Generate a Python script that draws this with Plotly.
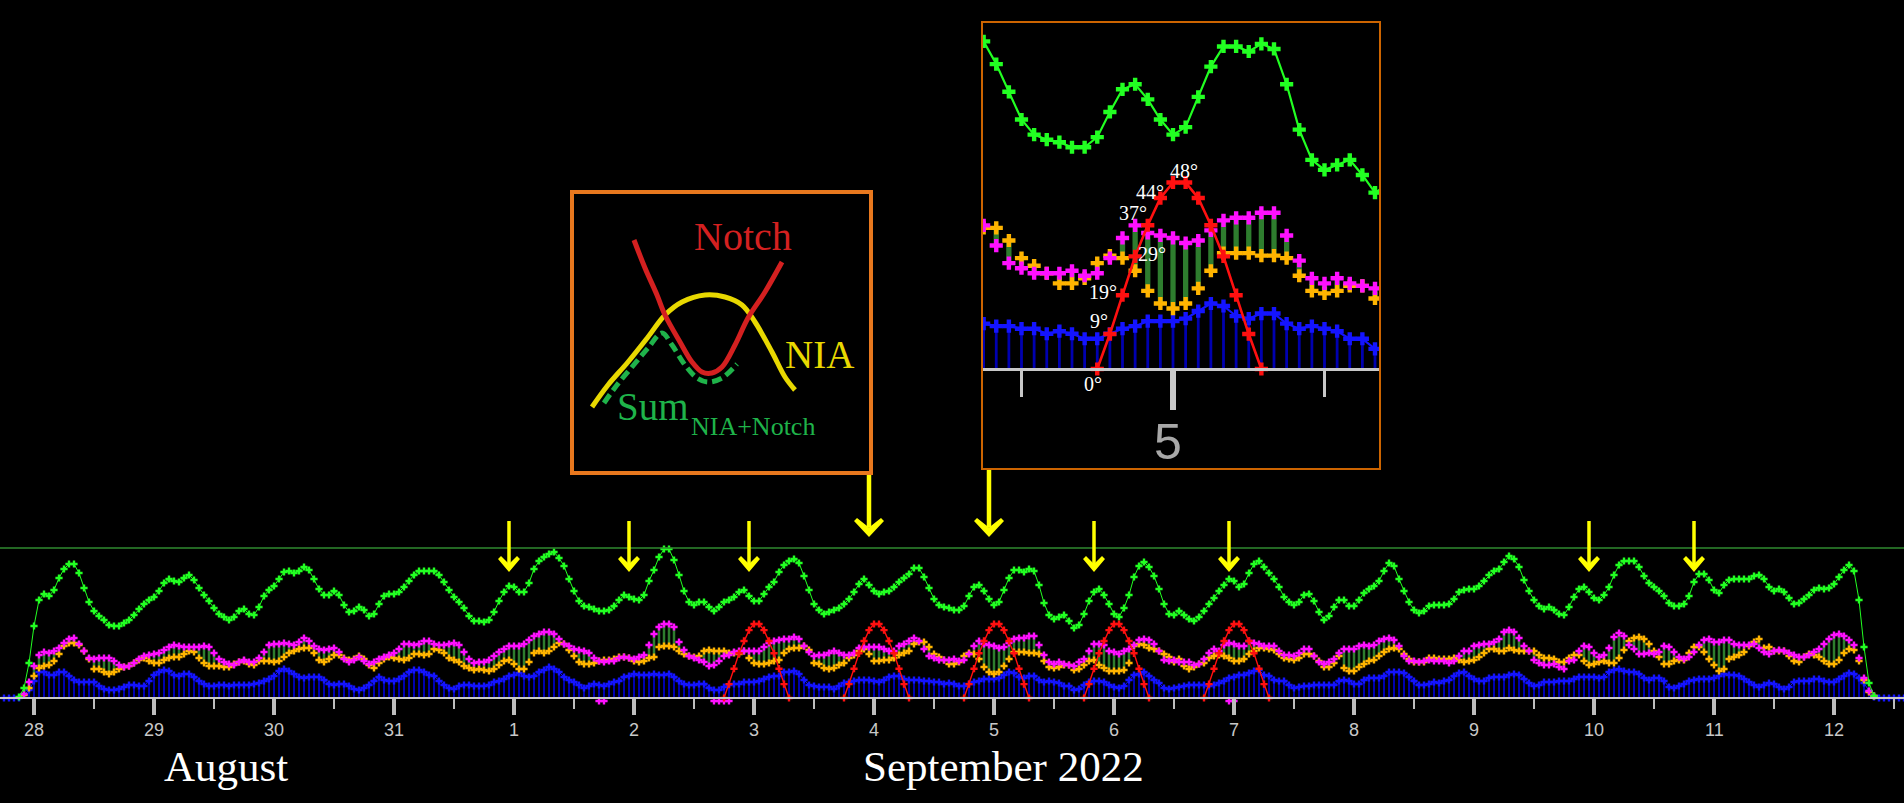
import numpy as np
import plotly.graph_objects as go

W, H = 1904, 803

# ---------------- data (hourly, hours since 28 Aug 2022 00:00) ----------------
HOURS = list(range(-6, 375))

GREEN = [None, None, None, 1, 10, 35,
 72, 98, 104, 102, 108, 120, 129, 134, 134, 125,
 110, 96, 87, 82, 78, 73, 72, 72, 75, 78,
 83, 89, 94, 98, 101, 107, 115, 119, 117, 116,
 120, 123, 118, 110, 103, 97, 90, 84, 81, 78,
 81, 87, 89, 84, 83, 91, 102, 108, 112, 119,
 126, 127, 125, 127, 131, 128, 119, 109, 103, 103,
 107, 103, 93, 86, 87, 91, 88, 82, 84, 94,
 102, 104, 104, 106, 111, 117, 123, 127, 127, 127,
 127, 123, 116, 108, 101, 96, 90, 82, 77, 77,
 76, 78, 86, 97, 106, 112, 111, 106, 106, 115,
 129, 137, 141, 144, 146, 140, 132, 119, 107, 97,
 92, 91, 89, 87, 87, 88, 92, 98, 103, 101,
 99, 98, 103, 117, 128, 141, 149, 149, 138, 123,
 107, 96, 93, 96, 96, 91, 87, 91, 96, 98,
 101, 106, 108, 102, 97, 97, 104, 111, 116, 126,
 133, 137, 139, 135, 122, 108, 94, 88, 84, 86,
 88, 90, 94, 99, 106, 114, 119, 113, 107, 104,
 106, 107, 111, 116, 120, 124, 130, 130, 121, 110,
 99, 93, 91, 90, 88, 88, 92, 102, 111, 113,
 107, 99, 93, 96, 108, 120, 128, 128, 126, 129,
 127, 113, 95, 83, 79, 81, 83, 77, 70, 73,
 84, 97, 106, 109, 103, 94, 84, 81, 90, 103,
 121, 132, 136, 131, 122, 109, 94, 84, 83, 87,
 83, 79, 77, 81, 87, 94, 100, 107, 113, 119,
 117, 111, 114, 125, 134, 137, 131, 125, 119, 111,
 101, 96, 93, 96, 103, 104, 97, 86, 78, 82,
 91, 98, 98, 92, 92, 98, 105, 109, 112, 117,
 127, 135, 132, 119, 107, 96, 88, 85, 87, 92,
 93, 93, 93, 94, 99, 106, 108, 109, 109, 112,
 117, 123, 127, 129, 136, 142, 139, 131, 118, 107,
 98, 92, 89, 91, 88, 84, 83, 91, 101, 109,
 111, 106, 100, 98, 103, 111, 123, 133, 137, 137,
 137, 131, 122, 115, 111, 107, 102, 95, 92, 92,
 94, 102, 116, 124, 124, 118, 108, 105, 113, 118,
 119, 119, 119, 119, 122, 123, 119, 111, 107, 109,
 106, 100, 94, 95, 99, 103, 108, 110, 109, 110,
 114, 121, 128, 133, 127, 98, 51, 15, 2, None,
 None, None, None, None, None]

MAGENTA = [None, None, None, None, 4, 16,
 32, 43, 46, 45, 47, 50, 55, 59, 60, 54,
 47, 40, 39, 40, 40, 40, 37, 33, 31, 32,
 35, 39, 42, 43, 44, 45, 48, 51, 53, 52,
 51, 51, 51, 51, 52, 51, 45, 39, 36, 34,
 33, 36, 38, 36, 36, 40, 46, 53, 54, 54,
 55, 54, 53, 56, 60, 57, 52, 49, 48, 49,
 50, 46, 39, 36, 38, 41, 37, 34, 36, 39,
 41, 43, 45, 49, 54, 54, 53, 54, 57, 57,
 54, 53, 53, 54, 55, 53, 46, 39, 35, 36,
 36, 38, 42, 46, 49, 52, 52, 52, 54, 58,
 62, 64, 66, 66, 64, 59, 54, 52, 49, 48,
 47, 45, 40, 37, 36, 37, 37, 40, 41, 40,
 39, 41, 43, 53, 64, 71, 74, 74, 71, 56,
 48, 42, 40, 38, 36, 32, 33, 37, 42, 43,
 46, 47, 47, 47, 47, 47, 51, 55, 57, 58,
 59, 59, 61, 59, 52, 46, 42, 43, 43, 45,
 47, 45, 43, 43, 45, 50, 51, 51, 51, 51,
 49, 47, 47, 52, 54, 57, 60, 57, 49, 42,
 40, 38, 38, 38, 39, 37, 38, 44, 52, 57,
 54, 53, 52, 50, 51, 55, 59, 60, 60, 62,
 62, 53, 43, 36, 34, 36, 34, 33, 32, 36,
 39, 47, 54, 54, 53, 47, 46, 44, 47, 49,
 53, 58, 59, 58, 54, 47, 38, 37, 38, 36,
 36, 36, 33, 34, 39, 45, 49, 47, 53, 55,
 54, 52, 52, 57, 55, 54, 52, 52, 52, 47,
 43, 43, 42, 45, 49, 49, 42, 36, 34, 36,
 39, 45, 49, 49, 49, 52, 53, 52, 53, 57,
 59, 60, 58, 52, 42, 37, 37, 36, 37, 38,
 37, 37, 37, 35, 37, 42, 47, 47, 52, 53,
 54, 54, 56, 59, 66, 68, 66, 60, 52, 47,
 38, 35, 33, 33, 34, 31, 29, 37, 38, 47,
 52, 51, 45, 41, 43, 50, 61, 65, 62, 53,
 49, 44, 44, 45, 44, 46, 52, 51, 46, 41,
 39, 41, 46, 53, 58, 59, 56, 56, 58, 58,
 54, 53, 53, 53, 54, 50, 46, 44, 47, 48,
 47, 45, 43, 41, 41, 43, 46, 49, 54, 59,
 63, 64, 62, 58, 53, 40, 20, 7, 2, None,
 None, None, None, None, None]

ORANGE = [None, None, None, None, 3, 10,
 22, 30, 32, 33, 37, 44, 52, 55, 55, 53,
 47, 39, 29, 29, 26, 24, 26, 29, 31, 32,
 35, 38, 40, 37, 35, 35, 38, 40, 41, 41,
 44, 47, 46, 40, 35, 32, 32, 32, 31, 31,
 34, 36, 37, 34, 33, 37, 37, 37, 36, 37,
 41, 45, 47, 49, 50, 50, 45, 38, 36, 39,
 43, 43, 40, 38, 39, 42, 39, 33, 30, 35,
 39, 41, 40, 39, 38, 40, 44, 44, 43, 44,
 49, 48, 45, 40, 38, 36, 32, 30, 28, 29,
 28, 27, 29, 33, 37, 38, 34, 29, 29, 36,
 45, 47, 45, 47, 51, 55, 54, 48, 42, 36,
 34, 34, 35, 37, 38, 38, 39, 41, 41, 40,
 37, 36, 37, 40, 41, 51, 52, 52, 51, 47,
 44, 42, 41, 42, 47, 48, 47, 47, 47, 45,
 45, 44, 47, 40, 35, 34, 34, 35, 37, 38,
 45, 49, 50, 50, 52, 48, 35, 34, 30, 29,
 30, 33, 35, 40, 43, 47, 49, 44, 37, 37,
 38, 38, 40, 43, 45, 47, 54, 56, 56, 51,
 44, 41, 38, 34, 34, 36, 42, 45, 44, 39,
 31, 26, 24, 26, 32, 39, 46, 46, 46, 45,
 45, 44, 37, 31, 30, 31, 33, 33, 28, 29,
 33, 37, 38, 33, 30, 27, 27, 27, 28, 35,
 52, 54, 53, 50, 49, 47, 44, 41, 36, 39,
 32, 29, 31, 34, 35, 40, 42, 43, 42, 40,
 37, 37, 39, 44, 47, 50, 50, 49, 48, 44,
 40, 39, 38, 40, 44, 44, 42, 37, 31, 31,
 35, 42, 30, 27, 27, 31, 34, 37, 38, 42,
 46, 49, 50, 49, 44, 39, 36, 36, 36, 40,
 40, 39, 39, 39, 40, 38, 36, 37, 38, 41,
 45, 49, 49, 47, 47, 50, 48, 47, 47, 47,
 47, 43, 40, 40, 39, 36, 36, 40, 43, 43,
 37, 33, 34, 36, 37, 35, 35, 40, 48, 57,
 60, 61, 59, 54, 47, 41, 34, 34, 37, 38,
 38, 45, 51, 51, 46, 39, 33, 27, 29, 39,
 41, 43, 46, 52, 56, 59, 50, 51, 47, 47,
 47, 42, 37, 36, 41, 44, 43, 41, 37, 34,
 34, 38, 45, 49, 48, 37, 18, 6, 2, None,
 None, None, None, None, None]

BLUE = [0, 0, 0, 0, 3, 8,
 17, 26, 26, 23, 23, 26, 26, 22, 18, 16,
 16, 16, 16, 12, 9, 8, 8, 9, 11, 13,
 13, 12, 12, 17, 23, 26, 28, 27, 23, 22,
 24, 24, 21, 17, 14, 12, 12, 13, 13, 12,
 13, 13, 13, 13, 14, 15, 17, 19, 22, 27,
 29, 27, 24, 21, 20, 21, 21, 21, 18, 14,
 13, 14, 14, 12, 9, 8, 10, 13, 17, 21,
 18, 17, 17, 19, 22, 26, 28, 28, 26, 23,
 22, 17, 13, 10, 9, 12, 13, 13, 12, 12,
 12, 13, 16, 17, 19, 22, 23, 25, 22, 21,
 22, 26, 28, 31, 29, 26, 21, 18, 16, 13,
 10, 12, 14, 13, 12, 14, 16, 17, 21, 22,
 24, 23, 23, 23, 24, 23, 23, 24, 21, 17,
 14, 13, 13, 14, 14, 10, 8, 8, 11, 13,
 14, 14, 16, 16, 16, 17, 19, 21, 22, 22,
 26, 26, 27, 24, 18, 13, 12, 11, 11, 11,
 9, 12, 15, 16, 17, 18, 18, 18, 17, 16,
 18, 21, 22, 22, 19, 18, 18, 18, 17, 17,
 16, 16, 14, 15, 14, 12, 12, 14, 16, 17,
 19, 19, 19, 20, 23, 26, 25, 21, 20, 22,
 22, 18, 16, 17, 16, 15, 12, 12, 8, 9,
 13, 16, 17, 17, 16, 13, 11, 10, 12, 18,
 23, 24, 26, 22, 18, 15, 10, 9, 10, 11,
 12, 13, 13, 13, 13, 12, 13, 15, 17, 20,
 21, 23, 23, 25, 27, 28, 23, 22, 18, 17,
 17, 13, 10, 11, 12, 12, 13, 13, 13, 13,
 13, 17, 18, 17, 14, 14, 18, 20, 20, 20,
 22, 26, 26, 26, 25, 21, 17, 13, 13, 14,
 16, 15, 17, 18, 22, 25, 26, 22, 19, 17,
 17, 20, 21, 21, 21, 23, 24, 23, 19, 15,
 12, 13, 16, 16, 16, 17, 17, 17, 19, 21,
 21, 21, 21, 20, 21, 26, 28, 29, 27, 26,
 26, 24, 20, 18, 20, 20, 17, 11, 10, 12,
 14, 17, 18, 19, 19, 19, 20, 22, 24, 23,
 23, 22, 19, 16, 13, 11, 13, 15, 14, 11,
 9, 11, 16, 17, 17, 17, 19, 19, 17, 16,
 16, 19, 22, 25, 24, 20, 15, 7, 1, 0,
 0, 0, 0, 0, 0]

NEG_HOURS = [113, 114, 136, 137, 138, 139, 239, 240]
NEG_VALUES = [-3, -3, -3, -3, -3, -3, -3, -3]

NOTCH_DEG = [0, 9, 19, 29, 37, 44, 48, 48, 44, 37, 29, 19, 9, 0]
NOTCH_START = [138, 162, 186, 210, 234]

DAY_HOURS = [0, 24, 48, 72, 96, 120, 144, 168, 192, 216, 240, 264, 288, 312, 336, 360]
DAY_LABELS = ["28", "29", "30", "31", "1", "2", "3", "4", "5", "6", "7", "8", "9", "10", "11", "12"]
ARROW_SMALL_HOURS = [95, 119, 143, 212, 239, 311, 332]
ARROW_BIG_HOURS = [167, 191]
INSET_DAY_HOUR = 192
INSET_DAY_LABEL = "5"

# ---------------- geometry ----------------
X_MIN, X_MAX = -6.8, 374.0          # main axis range (hours)
BASE_PX = 698                        # main baseline (pixels from top)
DEG_UNIT = 74 / 48                   # notch degree -> value units
IN_X = [176.871, 208.396]
IN_Y = [-39.68, 137.70]
IN_BOX = (982, 22, 1380, 469)
IN_BASE_PX = 369


def fit(a):
    a = (list(a) + [None] * len(HOURS))[:len(HOURS)]
    return np.array([np.nan if v is None else v for v in a], dtype=float)


def clean(a):
    return [None if (v is None or np.isnan(v)) else float(v) for v in a]


G, M, O, B = fit(GREEN), fit(MAGENTA), fit(ORANGE), fit(BLUE)
BAR_BASE = np.fmin(M, O)
BAR_LEN = np.abs(M - O)
BAR_BASE[np.isnan(M) | np.isnan(O)] = np.nan

NX, NY = [], []
for s in NOTCH_START:
    NX += [s + i for i in range(len(NOTCH_DEG))] + [None]
    NY += NOTCH_DEG + [None]

C_GREEN = "#22ff22"
C_MAG = "#ff10ff"
C_ORA = "#ffb400"
C_BLUE = "#1414ff"
C_STEM = "#0000b0"
C_BAR = "#2e7d2e"
C_RED = "#ff1010"

fig = go.Figure()


def add_panel(xa, ya, yn, ms, lw, rlw, bw):
    fig.add_trace(go.Bar(x=HOURS, y=clean(B), width=0.22, marker=dict(color=C_STEM, line_width=0),
                         xaxis=xa, yaxis=ya))
    fig.add_trace(go.Scatter(x=HOURS, y=clean(B), mode="lines+markers", line=dict(color=C_BLUE, width=lw),
                             marker=dict(symbol="cross", size=ms, color=C_BLUE), xaxis=xa, yaxis=ya))
    fig.add_trace(go.Bar(x=HOURS, y=clean(BAR_LEN), base=clean(BAR_BASE), width=bw,
                         marker=dict(color=C_BAR, line_width=0), xaxis=xa, yaxis=ya))
    fig.add_trace(go.Scatter(x=HOURS, y=clean(O), mode="markers",
                             marker=dict(symbol="cross", size=ms, color=C_ORA), xaxis=xa, yaxis=ya))
    fig.add_trace(go.Scatter(x=HOURS, y=clean(M), mode="markers",
                             marker=dict(symbol="cross", size=ms, color=C_MAG), xaxis=xa, yaxis=ya))
    fig.add_trace(go.Scatter(x=NEG_HOURS, y=NEG_VALUES, mode="markers",
                             marker=dict(symbol="cross", size=ms, color=C_MAG), xaxis=xa, yaxis=ya))
    fig.add_trace(go.Scatter(x=HOURS, y=clean(G), mode="lines+markers", line=dict(color=C_GREEN, width=lw),
                             marker=dict(symbol="cross", size=ms, color=C_GREEN), xaxis=xa, yaxis=ya))
    fig.add_trace(go.Scatter(x=NX, y=NY, mode="lines+markers", line=dict(color=C_RED, width=rlw),
                             marker=dict(symbol="cross", size=ms, color=C_RED), xaxis=xa, yaxis=yn))


add_panel("x", "y", "y3", 6, 1, 1.4, 0.5)
add_panel("x2", "y2", "y4", 11, 2.2, 2.6, 0.42)

# ---------------- hand drawn legend (pixel overlay axis) ----------------
legend_curves = [
    ([592, 608, 628, 648, 665, 682, 705, 725, 742, 755, 772, 785, 795],
     [407, 385, 362, 337, 315, 302, 295, 297, 305, 322, 352, 377, 390], "#e8d800", "solid"),
    ([604, 617, 632, 648, 662, 672, 685, 697, 708, 722, 737],
     [403, 385, 367, 348, 333, 345, 365, 378, 382, 378, 364], "#1fb34a", "10px,5px"),
    ([634, 645, 657, 665, 680, 692, 702, 712, 722, 735, 748, 765, 782],
     [240, 268, 295, 315, 342, 362, 372, 373, 367, 345, 318, 292, 262], "#d42020", "solid"),
]
for lx, ly, col, dash in legend_curves:
    fig.add_trace(go.Scatter(x=lx, y=ly, mode="lines", line=dict(color=col, width=5, shape="spline", dash=dash),
                             xaxis="x5", yaxis="y5", hoverinfo="skip"))


def hour_px(h):
    return (h - X_MIN) / (X_MAX - X_MIN) * W


def arrow(cx, top, tip, half, head, shaft):
    neck = tip - head * 0.5
    p1 = f"M{cx - shaft / 2},{top} L{cx + shaft / 2},{top} L{cx + shaft / 2},{neck} L{cx - shaft / 2},{neck} Z"
    p2 = (f"M{cx},{tip} L{cx - half},{tip - head + 3} L{cx - half + 3},{tip - head} L{cx},{neck} "
          f"L{cx + half - 3},{tip - head} L{cx + half},{tip - head + 3} Z")
    return [dict(type="path", path=p, xref="x5", yref="y5", fillcolor="#ffff00", line=dict(width=0))
            for p in (p1, p2)]


shapes = []
shapes.append(dict(type="line", xref="x5", yref="y5", x0=0, x1=W, y0=548, y1=548,
                   line=dict(color="#2f8a2f", width=1.5), layer="below"))
shapes.append(dict(type="rect", xref="x5", yref="y5", x0=572, y0=192, x1=871, y1=473,
                   line=dict(color="#e8781e", width=4)))
shapes.append(dict(type="rect", xref="x5", yref="y5", x0=IN_BOX[0], y0=IN_BOX[1], x1=IN_BOX[2], y1=IN_BOX[3],
                   line=dict(color="#cc6400", width=2)))
for h in ARROW_SMALL_HOURS:
    shapes += arrow(hour_px(h), 521, 572, 11, 16, 3.5)
tops = [475, 470]
for h, t in zip(ARROW_BIG_HOURS, tops):
    shapes += arrow(hour_px(h), t, 537, 15, 19, 4.5)

annotations = []
for h, lab in zip(DAY_HOURS, DAY_LABELS):
    annotations.append(dict(x=h, y=1 - 742 / H, xref="x", yref="paper", text=lab, showarrow=False,
                            font=dict(family="Liberation Sans", size=18, color="#c8c8c8")))
annotations.append(dict(x=1168, y=442, xref="x5", yref="y5", text=INSET_DAY_LABEL, showarrow=False,
                        font=dict(family="Liberation Sans", size=50, color="#a8a8a8")))
deg_pos = [(1093, 384), (1099, 321), (1103, 292), (1152, 254), (1133, 213), (1150, 192), (1184, 171)]
for (px, py), d in zip(deg_pos, NOTCH_DEG[:7]):
    annotations.append(dict(x=px, y=py, xref="x5", yref="y5", text=f"{d}°", showarrow=False,
                            font=dict(family="Liberation Serif", size=20, color="white")))
texts = [
    ("Notch", 743, 236, 40, "#d42020", "center"),
    ("NIA", 783, 354, 39, "#e8d800", "left"),
    ("Sum", 615, 406, 39, "#1fb34a", "left"),
    ("NIA+Notch", 689, 426, 26, "#1fb34a", "left"),
    ("August", 226, 766, 43, "white", "center"),
    ("September 2022", 1003, 766, 43, "white", "center"),
]
for t, px, py, fs, col, xa in texts:
    annotations.append(dict(x=px, y=py, xref="x5", yref="y5", text=t, showarrow=False, xanchor=xa,
                            font=dict(family="Liberation Serif", size=fs, color=col)))

fig.update_layout(
    width=W, height=H, margin=dict(l=0, r=0, t=0, b=0),
    paper_bgcolor="black", plot_bgcolor="rgba(0,0,0,0)",
    showlegend=False, barmode="overlay",
    xaxis=dict(domain=[0, 1], range=[X_MIN, X_MAX], anchor="free", position=1 - BASE_PX / H,
               showline=True, linecolor="#c8c8c8", linewidth=2, ticks="outside", tickmode="array",
               tickvals=DAY_HOURS, ticklen=16, tickwidth=4, tickcolor="#bdbdbd", showticklabels=False,
               showgrid=False, zeroline=False,
               minor=dict(tickmode="array", tickvals=[d + 12 for d in DAY_HOURS], ticks="outside",
                          ticklen=10, tickwidth=1.5, tickcolor="#bdbdbd", showgrid=False)),
    yaxis=dict(domain=[0, 1], range=[BASE_PX - H, BASE_PX], visible=False, anchor="x"),
    yaxis3=dict(overlaying="y", range=[(BASE_PX - H) / DEG_UNIT, BASE_PX / DEG_UNIT], visible=False, anchor="x"),
    xaxis2=dict(domain=[IN_BOX[0] / W, IN_BOX[2] / W], range=IN_X, anchor="free", position=1 - IN_BASE_PX / H,
                showline=True, linecolor="#c8c8c8", linewidth=3, ticks="outside", tickmode="array",
                tickvals=[INSET_DAY_HOUR], ticklen=39, tickwidth=6, tickcolor="#c8c8c8", showticklabels=False,
                showgrid=False, zeroline=False,
                minor=dict(tickmode="array", tickvals=[INSET_DAY_HOUR - 12, INSET_DAY_HOUR + 12], ticks="outside",
                           ticklen=26, tickwidth=2.5, tickcolor="#c8c8c8", showgrid=False)),
    yaxis2=dict(domain=[1 - IN_BOX[3] / H, 1 - IN_BOX[1] / H], range=IN_Y, visible=False, anchor="x2"),
    yaxis4=dict(overlaying="y2", range=[IN_Y[0] / DEG_UNIT, IN_Y[1] / DEG_UNIT], visible=False, anchor="x2"),
    xaxis5=dict(domain=[0, 1], range=[0, W], visible=False, anchor="y5"),
    yaxis5=dict(domain=[0, 1], range=[H, 0], visible=False, anchor="x5"),
    shapes=shapes, annotations=annotations,
)

fig.write_html(
    "out.html",
    config={"displayModeBar": False},
    post_script="document.body.style.margin='0';document.body.style.padding='0';"
                "document.body.style.background='black';document.body.style.overflow='hidden';"
                "document.documentElement.style.overflow='hidden';",
)
